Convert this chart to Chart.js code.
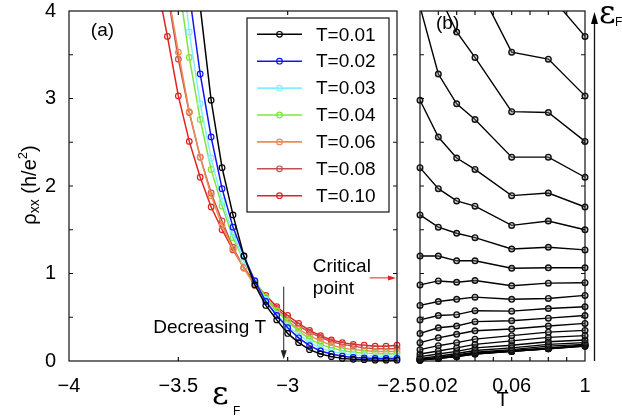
<!DOCTYPE html>
<html>
<head>
<meta charset="utf-8">
<script src="https://cdn.jsdelivr.net/npm/chart.js@4.4.0/dist/chart.umd.min.js"></script>
<style>
  html, body { margin: 0; padding: 0; background: #fff; }
  #wrap { position: relative; width: 622px; height: 418px; overflow: hidden; }
  canvas { position: absolute; top: 0; }
  #chartA { left: 0; }
  #chartB { left: 400px; }
</style>
</head>
<body>
<div id="wrap">
  <canvas id="chartA" width="420" height="418"></canvas>
  <canvas id="chartB" width="222" height="418"></canvas>
</div>
<script>
// Fermi energies (x of panel a, one curve each in panel b)
const energies = [-3.60, -3.55, -3.50, -3.45, -3.40, -3.35, -3.30, -3.25, -3.20, -3.15, -3.10, -3.05,
                  -3.00, -2.95, -2.90, -2.85, -2.80, -2.75, -2.70, -2.65, -2.60, -2.55, -2.50];
const temps = [0.01, 0.02, 0.03, 0.04, 0.06, 0.08, 0.10];
const tempLabels = ['T=0.01', 'T=0.02', 'T=0.03', 'T=0.04', 'T=0.06', 'T=0.08', 'T=0.10'];

// rho_xx (h/e^2), values
const rhoT001 = [null, null, null, null, 4.05, 2.98, 2.21, 1.67, 1.20, 0.87, 0.635, 0.47, 0.315, 0.21, 0.13, 0.08, 0.05, 0.03, 0.02, 0.015, 0.01, 0.01, 0.01];
const rhoT002 = [null, null, null, 4.2, 3.28, 2.56, 1.97, 1.53, 1.20, 0.915, 0.68, 0.52, 0.38, 0.265, 0.175, 0.115, 0.08, 0.055, 0.04, 0.035, 0.03, 0.03, 0.03];
const rhoT003 = [null, null, 4.9, 3.76, 2.94, 2.32, 1.83, 1.46, 1.145, 0.90, 0.705, 0.53, 0.40, 0.305, 0.21, 0.15, 0.11, 0.085, 0.07, 0.06, 0.055, 0.05, 0.05];
const rhoT004 = [null, null, 4.35, 3.47, 2.76, 2.19, 1.77, 1.41, 1.145, 0.92, 0.73, 0.575, 0.45, 0.345, 0.25, 0.19, 0.15, 0.12, 0.10, 0.09, 0.085, 0.08, 0.08];
const rhoT006 = [null, 4.25, 3.53, 2.85, 2.33, 1.89, 1.55, 1.28, 1.06, 0.86, 0.705, 0.57, 0.46, 0.365, 0.29, 0.23, 0.18, 0.15, 0.13, 0.12, 0.11, 0.11, 0.11];
const rhoT008 = [null, 4.2, 3.45, 2.84, 2.33, 1.92, 1.60, 1.30, 1.065, 0.89, 0.715, 0.60, 0.49, 0.40, 0.33, 0.27, 0.22, 0.19, 0.17, 0.15, 0.14, 0.14, 0.14];
const rhoT010 = [4.35, 3.71, 3.03, 2.51, 2.10, 1.76, 1.50, 1.27, 1.065, 0.895, 0.75, 0.62, 0.52, 0.43, 0.35, 0.29, 0.24, 0.21, 0.19, 0.18, 0.17, 0.17, 0.18];
const rhoSeries = [rhoT001, rhoT002, rhoT003, rhoT004, rhoT006, rhoT008, rhoT010];
const seriesColors = ['#000000', '#1414f0', '#80f0ff', '#80e63c', '#ee8a52', '#c0504e', '#e02222'];

// ticks
const xTicksA = [-4, -3.5, -3, -2.5];
const xTickLabelsA = ['\u22124', '\u22123.5', '\u22123', '\u22122.5'];
const yTicksA = [0, 1, 2, 3, 4];
const yTickLabelsA = ['0', '1', '2', '3', '4'];
const yTickMarks = [0.5, 1, 1.5, 2, 2.5, 3, 3.5];
const xTickMarksA = [-3.5, -3];
const xTicksB = [0.02, 0.06, 0.1];
const xTickLabelsB = ['0.02', '0.06', '1'];
const xTickMarksB = [0.02, 0.03, 0.04, 0.05, 0.06, 0.07, 0.08, 0.09];

const SANS = '"Liberation Sans", Arial, Helvetica, sans-serif';
const SERIF = '"DejaVu Serif", "Liberation Serif", serif';
Chart.defaults.font.family = SANS;
Chart.defaults.color = '#000';

function frameAndTicks(chart, xMarks, yMarks) {
    const { ctx, chartArea: a, scales: { x, y } } = chart;
    ctx.save();
    ctx.strokeStyle = '#111';
    ctx.lineWidth = 1.2;
    ctx.beginPath();
    xMarks.forEach(v => {
        const px = x.getPixelForValue(v);
        ctx.moveTo(px, a.bottom); ctx.lineTo(px, a.bottom - 4);
        ctx.moveTo(px, a.top); ctx.lineTo(px, a.top + 4);
    });
    yMarks.forEach(v => {
        const py = y.getPixelForValue(v);
        ctx.moveTo(a.left, py); ctx.lineTo(a.left + 4, py);
        ctx.moveTo(a.right, py); ctx.lineTo(a.right - 4, py);
    });
    ctx.stroke();
    ctx.strokeRect(a.left, a.top, a.right - a.left, a.bottom - a.top);
    ctx.restore();
}

function arrowHead(ctx, x, y, dx, dy, len, half) {
    // tip at (x, y), pointing along (dx, dy)
    ctx.beginPath();
    ctx.moveTo(x, y);
    ctx.lineTo(x - dx * len - dy * half, y - dy * len + dx * half);
    ctx.lineTo(x - dx * len + dy * half, y - dy * len - dx * half);
    ctx.closePath();
    ctx.fill();
}

const panelAPlugin = {
    id: 'panelA',
    afterDraw(chart) {
        const { ctx, chartArea: a, scales: { x, y } } = chart;
        frameAndTicks(chart, xTickMarksA, yTickMarks);
        ctx.save();
        ctx.fillStyle = '#000';
        ctx.textBaseline = 'middle';
        ctx.font = '19px ' + SANS;
        ctx.fillText('(a)', x.getPixelForValue(-3.90), y.getPixelForValue(3.77));
        ctx.fillText('Decreasing T', x.getPixelForValue(-3.615), y.getPixelForValue(0.38));
        ctx.fillText('Critical', x.getPixelForValue(-2.885), y.getPixelForValue(1.075));
        ctx.fillText('point', x.getPixelForValue(-2.885), y.getPixelForValue(0.82));

        // decreasing T arrow
        const ax = x.getPixelForValue(-3.018);
        ctx.strokeStyle = '#222';
        ctx.fillStyle = '#222';
        ctx.lineWidth = 1;
        ctx.beginPath();
        ctx.moveTo(ax, y.getPixelForValue(0.85));
        ctx.lineTo(ax, y.getPixelForValue(0.02) - 6);
        ctx.stroke();
        arrowHead(ctx, ax, y.getPixelForValue(0.02), 0, 1, 9, 3);

        // critical point arrow
        const cy = y.getPixelForValue(0.95);
        ctx.strokeStyle = '#e02020';
        ctx.fillStyle = '#e02020';
        ctx.beginPath();
        ctx.moveTo(x.getPixelForValue(-2.625), cy);
        ctx.lineTo(a.right - 5, cy);
        ctx.stroke();
        arrowHead(ctx, a.right - 1, cy, 1, 0, 8, 2.5);

        // legend
        const bx = a.left + 178, by = a.top + 7, bw = 142, bh = 194;
        ctx.fillStyle = '#fff';
        ctx.fillRect(bx, by, bw, bh);
        ctx.strokeStyle = '#111';
        ctx.lineWidth = 1.2;
        ctx.strokeRect(bx, by, bw, bh);
        chart.data.datasets.forEach((ds, i) => {
            const ry = by + 16.3 + i * 26.9;
            ctx.strokeStyle = ds.borderColor;
            ctx.lineWidth = 1.6;
            ctx.beginPath();
            ctx.moveTo(bx + 10, ry); ctx.lineTo(bx + 55, ry);
            ctx.stroke();
            ctx.lineWidth = 1.2;
            ctx.beginPath();
            ctx.arc(bx + 32.5, ry, 2.8, 0, Math.PI * 2);
            ctx.stroke();
            ctx.fillStyle = '#000';
            ctx.font = '19px ' + SANS;
            ctx.fillText(ds.label, bx + 69, ry + 1);
        });

        // axis titles
        ctx.fillStyle = '#000';
        ctx.textBaseline = 'alphabetic';
        ctx.font = '32px ' + SERIF;
        ctx.fillText('\u03b5', 212, 404);
        ctx.font = '12px ' + SANS;
        ctx.fillText('F', 233, 415);

        ctx.translate(30, 185);
        ctx.rotate(-Math.PI / 2);
        const parts = [
            { t: '\u03c1', s: 20, dy: 0 },
            { t: 'xx', s: 14, dy: 5 },
            { t: ' (h/e', s: 20, dy: 0 },
            { t: '2', s: 13, dy: -7 },
            { t: ')', s: 20, dy: 0 }
        ];
        let total = 0;
        parts.forEach(p => { ctx.font = p.s + 'px ' + SANS; p.w = ctx.measureText(p.t).width; total += p.w; });
        let cx = -total / 2;
        ctx.textBaseline = 'middle';
        parts.forEach(p => {
            ctx.font = p.s + 'px ' + SANS;
            ctx.fillText(p.t, cx, p.dy);
            cx += p.w;
        });
        ctx.restore();
    }
};

const panelBPlugin = {
    id: 'panelB',
    afterDraw(chart) {
        const { ctx, chartArea: a } = chart;
        frameAndTicks(chart, xTickMarksB, yTickMarks);
        ctx.save();
        ctx.fillStyle = '#000';
        ctx.textBaseline = 'middle';
        ctx.font = '19px ' + SANS;
        ctx.fillText('(b)', a.left + 16, a.top + 13);

        const ax = a.right + 9.5;
        ctx.strokeStyle = '#111';
        ctx.lineWidth = 1.3;
        ctx.beginPath();
        ctx.moveTo(ax, a.bottom);
        ctx.lineTo(ax, a.top + 10);
        ctx.stroke();
        arrowHead(ctx, ax, a.top + 1, 0, -1, 12, 3.5);

        ctx.textBaseline = 'alphabetic';
        ctx.font = '32px ' + SERIF;
        ctx.fillText('\u03b5', a.right + 14, 23);
        ctx.font = '12px ' + SANS;
        ctx.fillText('F', a.right + 30, 26);
        ctx.restore();
    }
};

const clipBox = { top: 0, left: 6, right: 6, bottom: 6 };

new Chart(document.getElementById('chartA'), {
    type: 'line',
    data: {
        datasets: rhoSeries.map((vals, j) => ({
            label: tempLabels[j],
            data: energies.map((e, i) => ({ x: e, y: vals[i] })),
            borderColor: seriesColors[j],
            borderWidth: 1.5,
            pointRadius: 2.8,
            pointBorderWidth: 1.2,
            pointBorderColor: seriesColors[j],
            pointBackgroundColor: 'rgba(255,255,255,0)',
            tension: 0,
            clip: clipBox
        }))
    },
    options: {
        responsive: false,
        animation: false,
        devicePixelRatio: 1,
        layout: { padding: { top: 11, right: 23, left: 0, bottom: 0 } },
        plugins: { legend: { display: false }, tooltip: { enabled: false } },
        scales: {
            x: {
                type: 'linear', min: -4, max: -2.5,
                grid: { display: false }, border: { display: false },
                afterBuildTicks: s => { s.ticks = xTicksA.map(v => ({ value: v })); },
                afterFit: s => { s.height = 57; s.paddingLeft = 0; s.paddingRight = 0; },
                ticks: { padding: 5, font: { size: 20 }, maxRotation: 0, autoSkip: false,
                         callback: (v, i) => xTickLabelsA[i] }
            },
            y: {
                type: 'linear', min: 0, max: 4,
                grid: { display: false }, border: { display: false },
                afterBuildTicks: s => { s.ticks = yTicksA.map(v => ({ value: v })); },
                afterFit: s => { s.width = 69; s.paddingTop = 0; s.paddingBottom = 0; },
                ticks: { padding: 5, font: { size: 20, lineHeight: 1 },
                         callback: (v, i) => yTickLabelsA[i] }
            }
        }
    },
    plugins: [panelAPlugin]
});

new Chart(document.getElementById('chartB'), {
    type: 'line',
    data: {
        datasets: energies.map((e, i) => ({
            label: 'eF=' + e,
            data: temps.map((t, j) => ({ x: t, y: rhoSeries[j][i] })),
            borderColor: '#000',
            borderWidth: 1.4,
            pointRadius: 2.8,
            pointBorderWidth: 1.4,
            pointBorderColor: '#111',
            pointBackgroundColor: 'rgba(140,140,140,0.35)',
            tension: 0,
            clip: clipBox
        }))
    },
    options: {
        responsive: false,
        animation: false,
        devicePixelRatio: 1,
        layout: { padding: { top: 11, right: 37, left: 20, bottom: 0 } },
        plugins: { legend: { display: false }, tooltip: { enabled: false } },
        scales: {
            x: {
                type: 'linear', min: 0.01, max: 0.1,
                grid: { display: false }, border: { display: false },
                afterBuildTicks: s => { s.ticks = xTicksB.map(v => ({ value: v })); },
                afterFit: s => { s.height = 57; s.paddingLeft = 0; s.paddingRight = 0; },
                ticks: { padding: 5, font: { size: 20 }, maxRotation: 0, autoSkip: false,
                         callback: (v, i) => xTickLabelsB[i] },
                title: { display: true, text: 'T', font: { size: 20 }, padding: { top: 0, bottom: 6 } }
            },
            y: { type: 'linear', min: 0, max: 4, display: false }
        }
    },
    plugins: [panelBPlugin]
});
</script>
</body>
</html>
